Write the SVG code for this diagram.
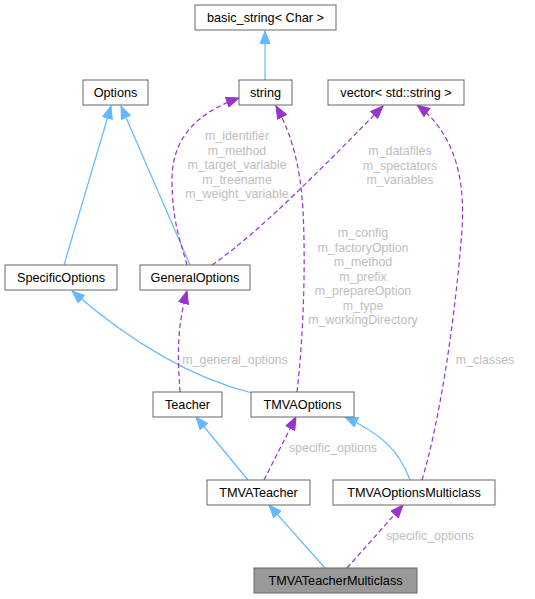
<svg xmlns="http://www.w3.org/2000/svg" width="535" height="599" viewBox="0 0 535 599">
<style>
.node rect{fill:#ffffff;stroke:#666666;stroke-width:1}
.node.hl rect{fill:#999999}
.node text{font-family:"Liberation Sans",Arial,sans-serif;font-size:12.7px;fill:#000000;text-anchor:middle}
.inh{fill:none;stroke:#63b8ff;stroke-width:1.2;marker-end:url(#ab)}
.use{fill:none;stroke:#9a32cd;stroke-width:1.2;stroke-dasharray:5,3;marker-end:url(#ap)}
.lbl{font-family:"Liberation Sans",Arial,sans-serif;font-size:12.4px;fill:#bebebe;text-anchor:middle}
</style>
<defs>
<marker id="ab" markerUnits="userSpaceOnUse" markerWidth="14" markerHeight="11" viewBox="0 0 14 11" refX="13" refY="5.5" orient="auto"><path d="M0.5,0.5 L13,5.5 L0.5,10.5 Z" fill="#63b8ff" stroke="#63b8ff"/></marker>
<marker id="ap" markerUnits="userSpaceOnUse" markerWidth="14" markerHeight="11" viewBox="0 0 14 11" refX="13" refY="5.5" orient="auto"><path d="M0.5,0.5 L13,5.5 L0.5,10.5 Z" fill="#9a32cd" stroke="#9a32cd"/></marker>
</defs>
<g id="edges">
<path class="inh" d="M265,80 L265,31"/>
<path class="inh" d="M64,265 L111,106"/>
<path class="inh" d="M190,265 L121,106"/>
<path class="use" d="M187,265 C180,240 172,220 172,180 C172,135 200,112 239,98"/>
<path class="use" d="M212,265 C260,232 330,160 383,106"/>
<path class="use" d="M297,392 C303,340 306,270 303,210 C300,165 292,135 276,106"/>
<path class="use" d="M422,480 C440,420 455,320 462,230 C466,170 450,130 417,105"/>
<path class="inh" d="M252,393 C200,380 140,350 72,291"/>
<path class="use" d="M180,392 C178,360 176,330 187,291"/>
<path class="inh" d="M248,480 L196,417"/>
<path class="use" d="M264,480 L296,417"/>
<path class="inh" d="M410,480 C400,452 382,434 345,417"/>
<path class="inh" d="M325,568 L269,505"/>
<path class="use" d="M347,568 L403,505"/>
<text class="lbl" x="237" y="140">m_identifier</text>
<text class="lbl" x="237" y="154.5">m_method</text>
<text class="lbl" x="237" y="169">m_target_variable</text>
<text class="lbl" x="237" y="183.5">m_treename</text>
<text class="lbl" x="237" y="198">m_weight_variable</text>
<text class="lbl" x="400" y="155">m_datafiles</text>
<text class="lbl" x="400" y="169.5">m_spectators</text>
<text class="lbl" x="400" y="184">m_variables</text>
<text class="lbl" x="363" y="237">m_config</text>
<text class="lbl" x="363" y="251.5">m_factoryOption</text>
<text class="lbl" x="363" y="266">m_method</text>
<text class="lbl" x="363" y="280.5">m_prefix</text>
<text class="lbl" x="363" y="295">m_prepareOption</text>
<text class="lbl" x="363" y="309.5">m_type</text>
<text class="lbl" x="363" y="324">m_workingDirectory</text>
<text class="lbl" x="485" y="364">m_classes</text>
<text class="lbl" x="235" y="364">m_general_options</text>
<text class="lbl" x="333" y="452">specific_options</text>
<text class="lbl" x="430" y="540">specific_options</text>
</g>
<g id="n_basic_string" class="node"><rect x="195" y="5" width="141" height="25"/><text x="265.5" y="22">basic_string&lt; Char &gt;</text></g>
<g id="n_options" class="node"><rect x="83" y="80" width="65" height="25"/><text x="115.5" y="97">Options</text></g>
<g id="n_string" class="node"><rect x="239" y="80" width="53" height="25"/><text x="265.5" y="97">string</text></g>
<g id="n_vector" class="node"><rect x="328" y="80" width="136" height="25"/><text x="396" y="97">vector&lt; std::string &gt;</text></g>
<g id="n_specific" class="node"><rect x="5" y="265" width="112" height="25"/><text x="61" y="282">SpecificOptions</text></g>
<g id="n_general" class="node"><rect x="140" y="265" width="110" height="25"/><text x="195" y="282">GeneralOptions</text></g>
<g id="n_teacher" class="node"><rect x="153" y="392" width="69" height="25"/><text x="187.5" y="409">Teacher</text></g>
<g id="n_tmvaoptions" class="node"><rect x="251" y="392" width="103" height="25"/><text x="302.5" y="409">TMVAOptions</text></g>
<g id="n_tmvateacher" class="node"><rect x="207" y="480" width="103" height="25"/><text x="258.5" y="497">TMVATeacher</text></g>
<g id="n_tmvaoptmc" class="node"><rect x="333" y="480" width="162" height="25"/><text x="414" y="497">TMVAOptionsMulticlass</text></g>
<g id="n_tmvateachmc" class="node hl"><rect x="254" y="568" width="163" height="25"/><text x="335.5" y="585">TMVATeacherMulticlass</text></g>
</svg>
